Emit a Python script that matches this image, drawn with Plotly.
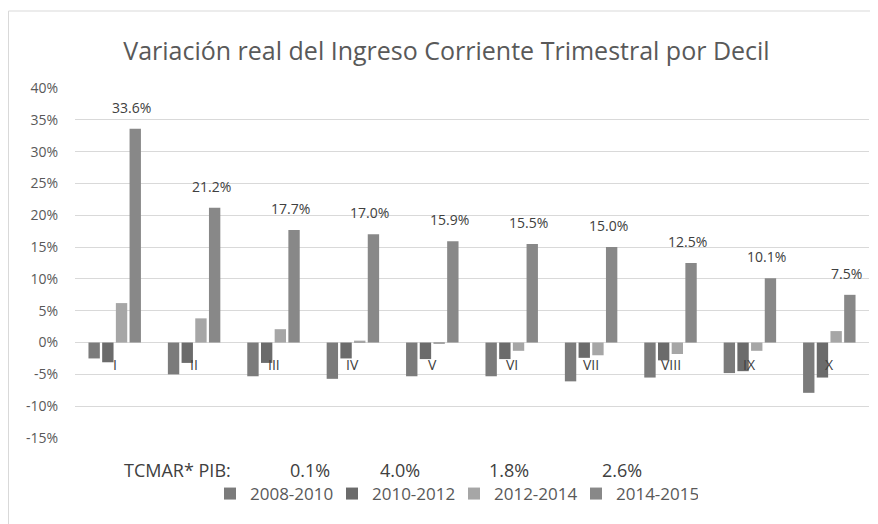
import plotly.graph_objects as go

deciles = ["I", "II", "III", "IV", "V", "VI", "VII", "VIII", "IX", "X"]
series_names = ["2008-2010", "2010-2012", "2012-2014", "2014-2015"]
v_2008_2010 = [-0.025, -0.050, -0.053, -0.057, -0.053, -0.053, -0.061, -0.055, -0.048, -0.079]
v_2010_2012 = [-0.031, -0.032, -0.032, -0.025, -0.026, -0.026, -0.024, -0.028, -0.045, -0.055]
v_2012_2014 = [0.062, 0.038, 0.021, 0.003, -0.002, -0.013, -0.020, -0.018, -0.013, 0.018]
v_2014_2015 = [0.336, 0.212, 0.177, 0.170, 0.159, 0.155, 0.150, 0.125, 0.101, 0.075]
tcmar_label = "TCMAR* PIB:"
tcmar_values = ["0.1%", "4.0%", "1.8%", "2.6%"]
y_tickvals = [-0.15, -0.10, -0.05, 0, 0.05, 0.10, 0.15, 0.20, 0.25, 0.30, 0.35, 0.40]
y_ticktext = ["-15%", "-10%", "-5%", "0%", "5%", "10%", "15%", "20%", "25%", "30%", "35%", "40%"]

colors = ["#7b7b7b", "#6b6b6b", "#a6a6a6", "#888888"]
FONT = "Open Sans"

fig = go.Figure()
for name, vals, c in zip(series_names, [v_2008_2010, v_2010_2012, v_2012_2014, v_2014_2015], colors):
    fig.add_trace(go.Bar(x=deciles, y=vals, name=name, marker=dict(color=c, line=dict(width=0))))

ann = []
# data labels for last series
for d, v in zip(deciles, v_2014_2015):
    ann.append(dict(x=d, y=v, xref="x", yref="y", text=f"{v*100:.1f}%", showarrow=False,
                    yanchor="bottom", xshift=17, yshift=10,
                    font=dict(family=FONT, size=14, color="#404040")))
# category labels next to zero line
for d in deciles:
    ann.append(dict(x=d, y=0, xref="x", yref="y", text=d, showarrow=False,
                    yanchor="top", yshift=-10,
                    font=dict(family=FONT, size=14, color="#404040")))
# TCMAR row
tc_x = [0.1285, 0.296, 0.4093, 0.5466, 0.689]
for x, t in zip(tc_x, [tcmar_label] + tcmar_values):
    ann.append(dict(x=x, y=-0.0914, xref="paper", yref="paper", text=t, showarrow=False,
                    xanchor="center", yanchor="middle",
                    font=dict(family=FONT, size=18, color="#404040")))

fig.update_layout(
    width=870, height=516,
    margin=dict(l=67, r=9, t=80, b=86),
    paper_bgcolor="white", plot_bgcolor="white",
    title=dict(text="Variación real del Ingreso Corriente Trimestral por Decil",
               x=0.504, xanchor="center", y=0.9167, yanchor="middle",
               font=dict(family=FONT, size=25, color="#595959")),
    barmode="group", bargap=0.31, bargroupgap=0.17,
    xaxis=dict(showticklabels=False, showgrid=False, zeroline=False, showline=False),
    yaxis=dict(range=[-0.15, 0.40], tickvals=y_tickvals, ticktext=y_ticktext,
               showgrid=True, gridcolor="#d9d9d9", gridwidth=1,
               zeroline=True, zerolinecolor="#d9d9d9", zerolinewidth=1,
               showline=False, ticks="", ticklabelstandoff=16,
               tickfont=dict(family=FONT, size=14, color="#595959")),
    legend=dict(orientation="h", x=0.170, xanchor="left", y=-0.16, yanchor="middle",
                font=dict(family=FONT, size=17, color="#595959"), itemwidth=30,
                entrywidth=77, bgcolor="rgba(0,0,0,0)"),
    annotations=ann,
    shapes=[dict(type="rect", xref="paper", yref="paper",
                 x0=(0.5 - 67) / 794, x1=(890 - 67) / 794,
                 y0=(430 - 540) / 350, y1=(430 - 3) / 350,
                 line=dict(color="#d9d9d9", width=1), layer="below")],
)

fig.write_html("out.html")
